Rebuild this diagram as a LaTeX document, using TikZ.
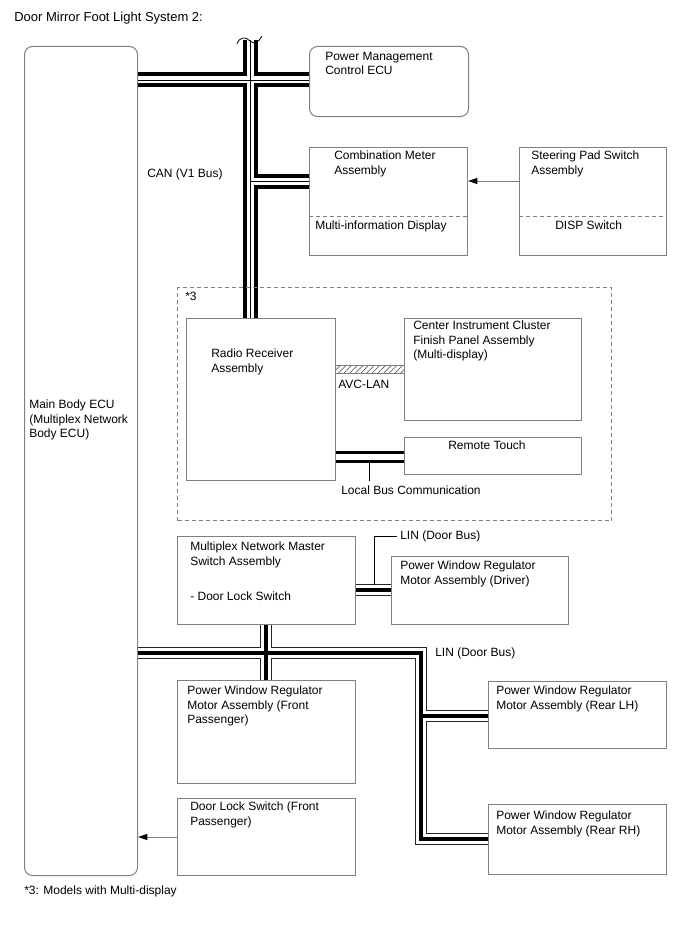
\documentclass[tikz,border=0pt]{standalone}
\usepackage{fontspec}
\setmainfont{Liberation Sans}
\usetikzlibrary{arrows.meta,patterns.meta}
\pgfdeclarelayer{bg}
\pgfsetlayers{bg,main}
\definecolor{boxgray}{RGB}{128,128,128}
\begin{document}
\begin{tikzpicture}[x=0.75pt,y=-0.75pt,
  bx/.style={draw=boxgray,line width=0.75pt,inner sep=0pt,anchor=north west},
  rbx/.style={bx,rounded corners=6pt},
  sz/.style 2 args={minimum width=#1*0.75pt,minimum height=#2*0.75pt},
  txt/.style={anchor=north west,inner sep=0pt,align=left,font=\fontsize{9}{11}\selectfont},
  lbl/.style={anchor=base west,inner sep=0pt,font=\fontsize{9}{11}\selectfont},
  dsh/.style={draw=boxgray,line width=0.75pt,dash pattern=on 3pt off 2.25pt},
  canA/.style={line width=11.25pt,black},
  canB/.style={line width=5.25pt,white},
  canC/.style={line width=0.6pt,black},
  linA/.style={line width=9pt,black!85},
  linB/.style={line width=7.5pt,white},
  linC/.style={line width=3pt,black},
  arr/.style={draw=boxgray,line width=0.75pt,-{Triangle[length=7pt,width=4.5pt,black]}},
  thinln/.style={draw=black,line width=0.6pt}
]
\useasboundingbox (0,0) rectangle (688,949);

% boxes
\node[rbx,sz={113}{829}] (main) at (24,46) {};
\node[rbx,sz={159}{70}] (pm) at (309,46) {};
\node[bx,sz={158}{108}] (comb) at (309,147) {};
\node[bx,sz={147}{108}] (steer) at (519,147) {};
\node[dsh,anchor=north west,inner sep=0pt,sz={434}{233}] (grp) at (177,287) {};
\node[bx,sz={149}{162}] (radio) at (186,318) {};
\node[bx,sz={177}{102}] (cic) at (404,318) {};
\node[bx,sz={177}{37}] (rt) at (404,437) {};
\node[bx,sz={178}{88}] (master) at (177,536) {};
\node[bx,sz={177}{68}] (driver) at (391,556) {};
\node[bx,sz={178}{103}] (fp) at (177,680) {};
\node[bx,sz={178}{67}] (rlh) at (488,681) {};
\node[bx,sz={178}{70}] (rrh) at (488,804) {};
\node[bx,sz={178}{77}] (dlfp) at (177,798) {};
\node[bx,pattern={Lines[angle=45,distance=3pt,line width=0.4pt]},pattern color=black!75,sz={69}{8}] (avc) at (335,365) {};

% buses
\coordinate (cantop) at (250,40);
\coordinate (canx) at (250,80);
\coordinate (canbr) at (250,181);
\coordinate (lh) at (421,653);
\coordinate (lbr) at (421,716);
\coordinate (lbot) at (421,839);
\coordinate (lv) at (266,653);
\coordinate (ld) at (0,590);
\coordinate (lb) at (0,456.5);
\begin{pgfonlayer}{bg}
\foreach \s in {canA,canB,canC}{
  \draw[\s] (main.east |- canx) -- (pm.west |- canx);
  \draw[\s] (cantop) -- (radio.north -| cantop);
  \draw[\s] (canbr) -- (comb.west |- canbr);
}
\foreach \s in {linA,linB,linC}{
  \draw[\s] (main.east |- lh) -- (lh) -- (lbot) -- (rrh.west |- lbot);
  \draw[\s] (lbr) -- (rlh.west |- lbr);
  \draw[\s] (master.south -| lv) -- (fp.north -| lv);
  \draw[\s] (master.east |- ld) -- (driver.west |- ld);
}
\draw[line width=9pt,black] (radio.east |- lb) -- (rt.west |- lb);
\draw[line width=4.5pt,white] (radio.east |- lb) -- (rt.west |- lb);
\end{pgfonlayer}

% bus break mark
\draw[thinln] (237,44) .. controls (239,37) and (246,36) .. (250,41) .. controls (254,45) and (259,42) .. (262,36);

% dashed separators
\coordinate (dl) at (0,216);
\draw[dsh] (comb.west |- dl) -- (comb.east |- dl);
\draw[dsh] (steer.west |- dl) -- (steer.east |- dl);

% arrows
\draw[arr] (steer.west |- canbr) -- (comb.east |- canbr);
\coordinate (dla) at (0,837);
\draw[arr] (dlfp.west |- dla) -- (main.east |- dla);

% texts
\node[lbl,font=\fontsize{9.75}{12}\selectfont] (title) at (14,22) {Door Mirror Foot Light System 2:};
\node[txt] (tmain) at (29,399.5) {Main Body ECU\\(Multiplex Network\\Body ECU)};
\node[txt] (tpm) at (325,51.5) {Power Management\\Control ECU};
\node[lbl] (tcan) at (147,177) {CAN (V1 Bus)};
\node[txt] (tcomb) at (334,150.5) {Combination Meter\\Assembly};
\node[lbl] (tmid) at (315,229) {Multi-information Display};
\node[txt] (tsteer) at (531,150.5) {Steering Pad Switch\\Assembly};
\node[lbl] (tdisp) at (555,229) {DISP Switch};
\node[lbl] (t3) at (185,300) {*3};
\node[txt] (tradio) at (211,348.5) {Radio Receiver\\Assembly};
\node[txt] (tcic) at (413,320.5) {Center Instrument Cluster\\Finish Panel Assembly\\(Multi-display)};
\node[lbl] (tavc) at (338,388) {AVC-LAN};
\node[lbl] (trt) at (448,449) {Remote Touch};
\node[lbl] (tlb) at (341,494) {Local Bus Communication};
\node[txt] (tmaster) at (190,541.5) {Multiplex Network Master\\Switch Assembly};
\node[lbl] (tdls) at (190,600) {- Door Lock Switch};
\node[txt] (tdrv) at (400,560.5) {Power Window Regulator\\Motor Assembly (Driver)};
\node[lbl] (lin1) at (400,539) {LIN (Door Bus)};
\node[lbl] (lin2) at (435,656) {LIN (Door Bus)};
\node[txt] (tfp) at (187,685.5) {Power Window Regulator\\Motor Assembly (Front\\Passenger)};
\node[txt] (trlh) at (496,685.5) {Power Window Regulator\\Motor Assembly (Rear LH)};
\node[txt] (trrh) at (496,810.5) {Power Window Regulator\\Motor Assembly (Rear RH)};
\node[txt] (tdl) at (190,801.5) {Door Lock Switch (Front\\Passenger)};
\node[lbl] (tfoot) at (24,894) {*3: Models with Multi-display};

% label leaders
\coordinate (ltk) at (374,584.5);
\draw[thinln] (ltk) |- ([xshift=-2.5pt]lin1.west);
\coordinate (lbt) at (369,462.5);
\coordinate (lbe) at (369,481);
\draw[thinln] (lbt) -- (lbe);
\end{tikzpicture}
\end{document}
